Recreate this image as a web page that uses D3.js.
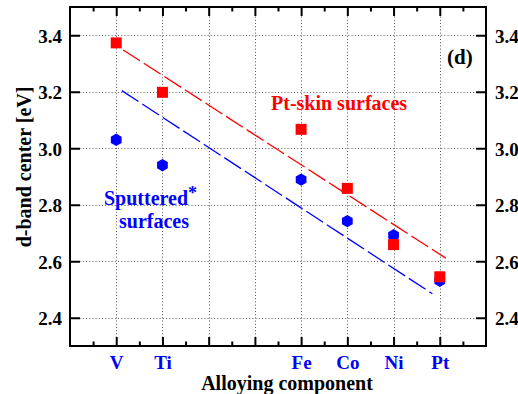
<!DOCTYPE html>
<html><head><meta charset="utf-8">
<script src="https://cdn.jsdelivr.net/npm/d3@7"></script>
<style>
body{margin:0;background:#fff}
svg{display:block}
</style>
</head><body><svg id="c" width="518" height="394"></svg>
<script>
// ---- data ----
const categories = ["V", "Ti", "Fe", "Co", "Ni", "Pt"];
const categoryPos = [1, 2, 5, 6, 7, 8];
const majorTickPos = [1, 2, 3, 4, 5, 6, 7, 8];
const minorTickPos = [0.5, 1.5, 2.5, 3.5, 4.5, 5.5, 6.5, 7.5, 8.5];
const ptSkin = [3.373, 3.198, 3.067, 2.858, 2.659, 2.545];
const sputtered = [3.030, 2.940, 2.889, 2.742, 2.692, 2.531];
const ptSkinFitX = [1.15, 8.13];
const ptSkinFitY = [3.348, 2.611];
const sputFitX = [1.12, 7.84];
const sputFitY = [3.204, 2.485];
const yTicks = [2.4, 2.6, 2.8, 3.0, 3.2, 3.4];

// ---- layout ----
const FONT = "Liberation Serif, Times New Roman, Times, DejaVu Serif, serif";
const L = 70, R = 486, T = 7, B = 346;
const svg = d3.select("#c");
svg.append("rect").attr("width", 518).attr("height", 394).attr("fill", "#fff");
const x = d3.scaleLinear().domain([0, 9]).range([L, R]);
const y = d3.scaleLinear().domain([2.3, 3.5]).range([B, T]);
const RED = "#ff0000", BLUE = "#0000ff";

// grid
const grid = svg.append("g").attr("stroke", "#555").attr("stroke-width", 1).attr("stroke-dasharray", "1,2.2");
grid.selectAll("line.v").data(majorTickPos).join("line")
  .attr("x1", d => Math.round(x(d)) + 0.5).attr("x2", d => Math.round(x(d)) + 0.5)
  .attr("y1", T).attr("y2", B);
grid.selectAll("line.h").data(yTicks).join("line")
  .attr("y1", d => Math.round(y(d)) + 0.5).attr("y2", d => Math.round(y(d)) + 0.5)
  .attr("x1", L).attr("x2", R);

// axes (ticks inward)
function styleAxis(g) {
  g.attr("font-family", FONT).attr("font-weight", "bold");
  g.select(".domain").remove();
  g.selectAll(".tick line").attr("stroke", "#000").attr("stroke-width", 2);
}
const fmt = d3.format(".1f");
const gBottom = svg.append("g").attr("transform", `translate(0,${B})`)
  .call(d3.axisBottom(x).tickValues(categoryPos).tickSize(-9).tickPadding(0)
    .tickFormat((d, i) => categories[i]));
styleAxis(gBottom);
gBottom.selectAll(".tick text").attr("dy", null).attr("y", 23)
  .attr("fill", BLUE).attr("font-size", 19);
const gBottomMaj2 = svg.append("g").attr("transform", `translate(0,${B})`)
  .call(d3.axisBottom(x).tickValues([3, 4]).tickSize(-9).tickFormat(""));
styleAxis(gBottomMaj2);
const gBottomMin = svg.append("g").attr("transform", `translate(0,${B})`)
  .call(d3.axisBottom(x).tickValues(minorTickPos).tickSize(-4.5).tickFormat(""));
styleAxis(gBottomMin);
const gTop = svg.append("g").attr("transform", `translate(0,${T})`)
  .call(d3.axisTop(x).tickValues(majorTickPos).tickSize(-9).tickFormat(""));
styleAxis(gTop);
const gTopMin = svg.append("g").attr("transform", `translate(0,${T})`)
  .call(d3.axisTop(x).tickValues(minorTickPos).tickSize(-4.5).tickFormat(""));
styleAxis(gTopMin);
const gLeft = svg.append("g").attr("transform", `translate(${L},0)`)
  .call(d3.axisLeft(y).tickValues(yTicks).tickSize(-10).tickPadding(8).tickFormat(fmt));
styleAxis(gLeft);
gLeft.selectAll(".tick text").attr("dy", null).attr("y", 7).attr("x", -8)
  .attr("fill", "#000").attr("font-size", 19);
const gRight = svg.append("g").attr("transform", `translate(${R},0)`)
  .call(d3.axisRight(y).tickValues(yTicks).tickSize(-10).tickFormat(fmt));
styleAxis(gRight);
gRight.selectAll(".tick text").attr("dy", null).attr("y", 7).attr("x", 9)
  .attr("fill", "#000").attr("font-size", 19);

// frame
svg.append("rect").attr("x", L).attr("y", T).attr("width", R - L).attr("height", B - T)
  .attr("fill", "none").attr("stroke", "#000").attr("stroke-width", 2);

// fit lines
const line = d3.line().x(d => x(d[0])).y(d => y(d[1]));
svg.append("path").datum(d3.zip(sputFitX, sputFitY)).attr("d", line)
  .attr("fill", "none").attr("stroke", BLUE).attr("stroke-width", 1.3).attr("stroke-dasharray", "20,4.5");
svg.append("path").datum(d3.zip(ptSkinFitX, ptSkinFitY)).attr("d", line)
  .attr("fill", "none").attr("stroke", RED).attr("stroke-width", 1.3).attr("stroke-dasharray", "20,4.5");

// markers
const hex = d3.line()(d3.range(6).map(k => {
  const a = Math.PI / 2 + k * Math.PI / 3;
  return [6.2 * Math.cos(a), 6.2 * Math.sin(a)];
})) + "Z";
svg.append("g").selectAll("path").data(sputtered).join("path")
  .attr("d", hex).attr("fill", BLUE)
  .attr("transform", (d, i) => `translate(${x(categoryPos[i])},${y(d)})`);
svg.append("g").selectAll("rect").data(ptSkin).join("rect")
  .attr("x", (d, i) => x(categoryPos[i]) - 5.5).attr("y", d => y(d) - 5.5)
  .attr("width", 11).attr("height", 11).attr("fill", RED);

// annotations
const ann = svg.append("g").attr("font-family", FONT).attr("font-weight", "bold");
ann.append("text").attr("x", 271).attr("y", 110).attr("fill", RED).attr("font-size", 20).text("Pt-skin surfaces");
ann.append("text").attr("x", 104).attr("y", 205).attr("fill", BLUE).attr("font-size", 20).text("Sputtered");
ann.append("text").attr("x", 188).attr("y", 199).attr("fill", BLUE).attr("font-size", 18).text("*");
ann.append("text").attr("x", 119).attr("y", 228).attr("fill", BLUE).attr("font-size", 20).text("surfaces");
ann.append("text").attr("x", 447).attr("y", 64).attr("fill", "#000").attr("font-size", 21).text("(d)");

// axis titles
ann.append("text").attr("x", 287).attr("y", 390).attr("text-anchor", "middle")
  .attr("fill", "#000").attr("font-size", 20).text("Alloying component");
ann.append("text").attr("transform", "translate(31,167) rotate(-90)").attr("text-anchor", "middle")
  .attr("fill", "#000").attr("font-size", 20).text("d-band center [eV]");
</script>
</body></html>
